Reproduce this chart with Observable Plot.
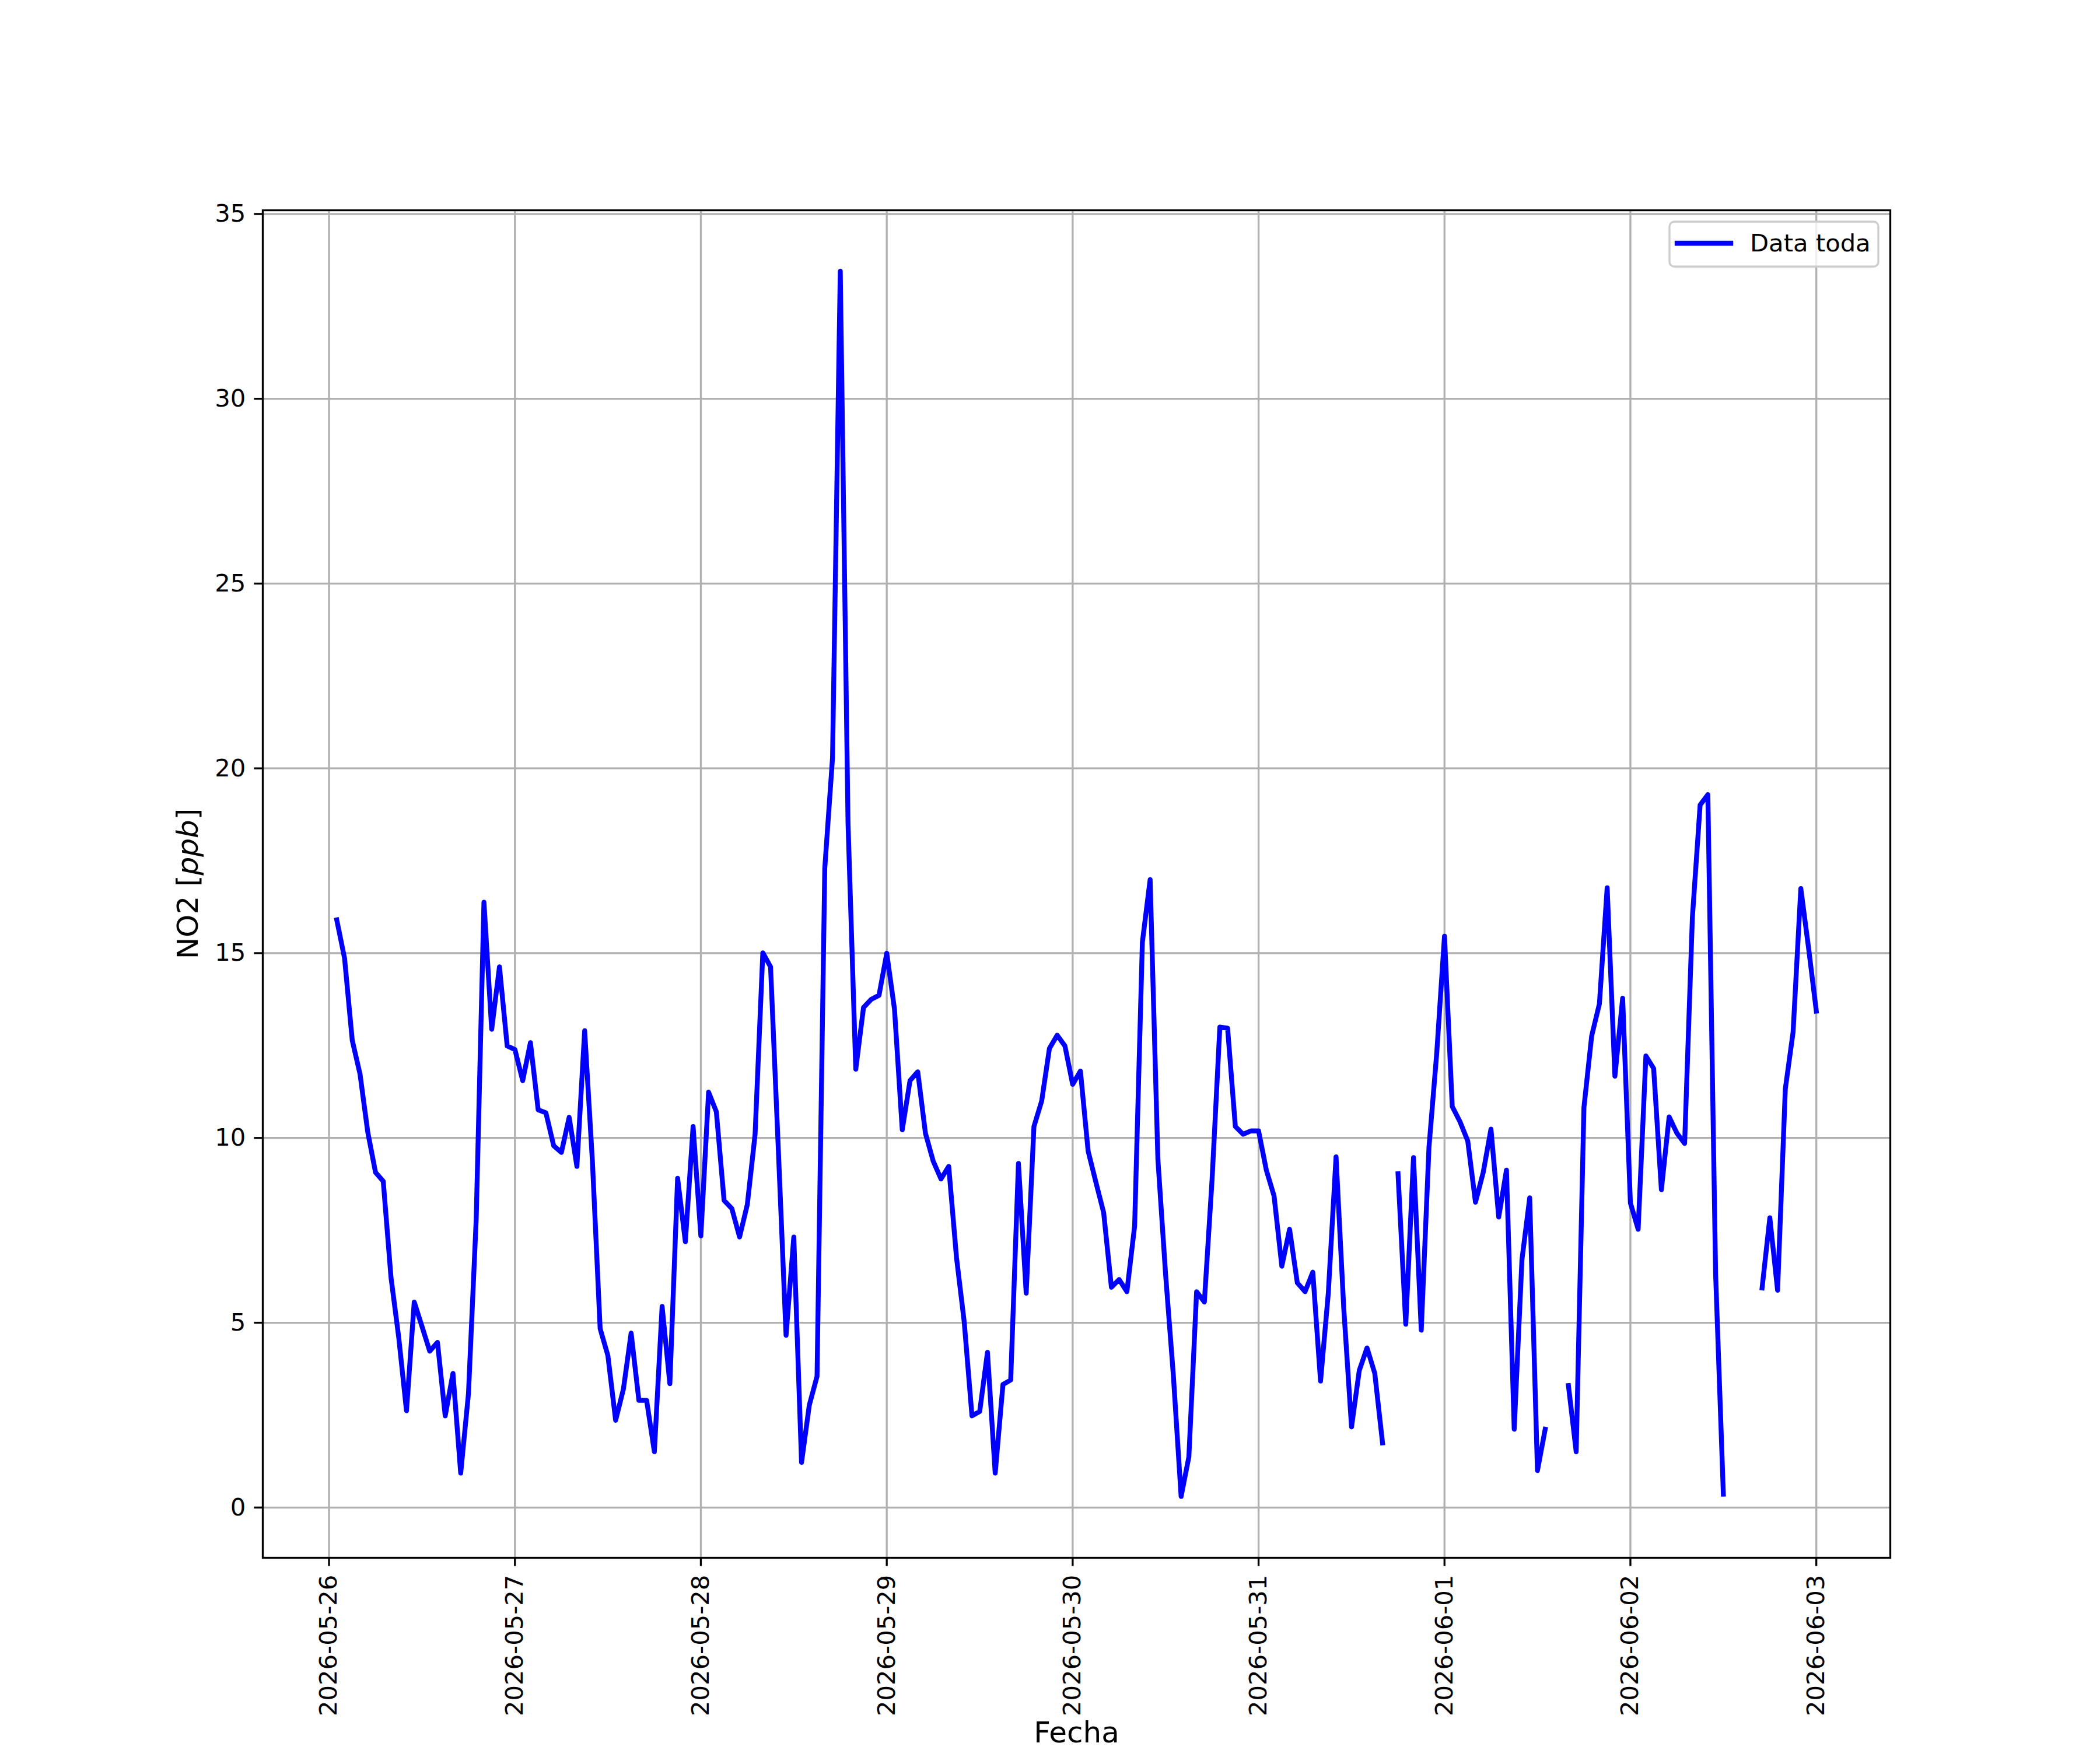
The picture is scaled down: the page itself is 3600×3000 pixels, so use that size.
<!DOCTYPE html>
<html>
<head>
<meta charset="utf-8">
<script src="https://cdn.jsdelivr.net/npm/d3@7"></script>
<script src="https://cdn.jsdelivr.net/npm/@observablehq/plot@0.6"></script>
<style>
  html, body { margin: 0; padding: 0; background: #ffffff; }
  #chart { width: 3600px; height: 3000px; }
</style>
</head>
<body>
<div id="chart"></div>
<script>
// ---- Data (hourly NO2, ppb) ----
const days = ["2026-05-26","2026-05-27","2026-05-28","2026-05-29","2026-05-30","2026-05-31","2026-06-01","2026-06-02","2026-06-03"];
const no2_0526 = [null,15.9,14.87,12.64,11.73,10.16,9.07,8.83,6.23,4.6,2.62,5.56,4.9,4.23,4.47,2.48,3.63,0.93,3.08,7.8,16.38,12.94,14.63,12.49];
const no2_0527 = [12.39,11.55,12.58,10.76,10.68,9.79,9.61,10.56,9.23,12.9,9.37,4.84,4.11,2.36,3.2,4.72,2.9,2.9,1.51,5.44,3.35,8.91,7.19,10.31];
const no2_0528 = [7.35,11.24,10.71,8.31,8.09,7.32,8.2,10.09,15.01,14.63,9.7,4.66,7.32,1.22,2.77,3.55,17.3,20.29,33.45,18.51,11.86,13.53,13.75,13.86];
const no2_0529 = [15.0,13.48,10.22,11.55,11.79,10.12,9.37,8.89,9.23,6.77,5.02,2.48,2.6,4.2,0.93,3.33,3.45,9.31,5.8,10.31,11.0,12.42,12.78,12.49];
const no2_0530 = [11.45,11.81,9.64,8.8,7.98,5.96,6.17,5.84,7.62,15.3,16.99,9.43,6.3,3.57,0.3,1.37,5.84,5.56,8.89,13.0,12.97,10.31,10.1,10.19];
const no2_0531 = [10.19,9.13,8.43,6.53,7.53,6.08,5.84,6.37,3.42,5.8,9.49,5.38,2.18,3.71,4.32,3.63,1.75,null,9.03,4.96,9.47,4.8,9.76,12.3];
const no2_0601 = [15.46,10.85,10.44,9.92,8.26,9.07,10.24,7.86,9.13,2.12,6.71,8.38,1.0,2.12,null,null,3.3,1.51,10.82,12.76,13.63,16.77,11.67,13.78];
const no2_0602 = [8.24,7.53,12.22,11.88,8.6,10.57,10.13,9.85,15.96,19.01,19.29,6.32,0.36,null,null,null,null,5.94,7.84,5.88,11.33,12.86,16.75,15.14];
const no2_0603 = [13.43];
const yTicks = [0,5,10,15,20,25,30,35];
const seriesLabel = "Data toda";
const xLabel = "Fecha";

// ---- Build table ----
const perDay = [no2_0526,no2_0527,no2_0528,no2_0529,no2_0530,no2_0531,no2_0601,no2_0602,no2_0603];
const rows = [];
days.forEach((d, i) => {
  const base = new Date(d + "T00:00:00Z").getTime();
  perDay[i].forEach((v, h) => rows.push({t: new Date(base + h * 3600e3), v: v}));
});
const dayTicks = days.map(d => new Date(d + "T00:00:00Z"));

// ---- Layout (matplotlib 12x10in @300dpi) ----
const W = 3600, H = 3000;
const mL = 450, mR = 360, mT = 360, mB = 330;
const lw = 3.33, tickLen = 14.6, pad = 14.6;
const fs = 41.7, fsLabel = 50;
const xDomain = [new Date("2026-05-25T15:27:00Z"), new Date("2026-06-03T09:33:00Z")];
const yDomain = [-1.36, 35.1];

const svg = Plot.plot({
  width: W, height: H,
  marginLeft: mL, marginRight: mR, marginTop: mT, marginBottom: mB,
  style: {fontFamily: "'DejaVu Sans', sans-serif", fontSize: fs + "px", background: "#ffffff", color: "#000000"},
  x: {type: "utc", domain: xDomain},
  y: {domain: yDomain},
  marks: [
    Plot.gridX(dayTicks, {stroke: "#b0b0b0", strokeOpacity: 1, strokeWidth: lw}),
    Plot.gridY(yTicks, {stroke: "#b0b0b0", strokeOpacity: 1, strokeWidth: lw}),
    Plot.line(rows, {x: "t", y: "v", stroke: "#0000ff", strokeWidth: 8.33, strokeLinejoin: "round", strokeLinecap: "square"}),
    Plot.frame({stroke: "#000000", strokeWidth: lw}),
    Plot.axisX(dayTicks, {
      tickFormat: d3.utcFormat("%Y-%m-%d"), tickRotate: -90, textAnchor: "end", lineAnchor: "middle",
      tickSize: tickLen, tickPadding: pad, strokeWidth: lw, fontSize: fs, label: null
    }),
    Plot.axisY(yTicks, {tickFormat: d3.format("d"), tickSize: tickLen, tickPadding: pad, strokeWidth: lw, fontSize: fs, label: null}),
    Plot.text([xLabel], {frameAnchor: "bottom", lineAnchor: "bottom", dy: 316, fontSize: fsLabel, text: d => d})
  ]
});

// ---- Y label with italic unit, and legend ----
const root = d3.select(svg);
const yl = root.append("text")
  .attr("transform", `translate(339,${mT + (H - mT - mB) / 2}) rotate(-90)`)
  .attr("text-anchor", "middle")
  .attr("font-family", "'DejaVu Sans', sans-serif")
  .attr("font-size", fsLabel)
  .attr("fill", "#000");
yl.append("tspan").text("NO2 [");
yl.append("tspan").attr("font-style", "italic").text("ppb");
yl.append("tspan").text("]");

const lg = root.append("g");
lg.append("rect")
  .attr("x", 2862).attr("y", 380).attr("width", 358).attr("height", 77)
  .attr("rx", 8).attr("ry", 8)
  .attr("fill", "#ffffff").attr("fill-opacity", 0.8)
  .attr("stroke", "#cccccc").attr("stroke-width", lw);
lg.append("line")
  .attr("x1", 2875).attr("x2", 2967).attr("y1", 417).attr("y2", 417)
  .attr("stroke", "#0000ff").attr("stroke-width", 8.33).attr("stroke-linecap", "square");
lg.append("text")
  .attr("x", 3000).attr("y", 431)
  .attr("text-anchor", "start")
  .attr("font-family", "'DejaVu Sans', sans-serif").attr("font-size", fs).attr("fill", "#000")
  .text(seriesLabel);

document.getElementById("chart").appendChild(svg);
</script>
</body>
</html>
